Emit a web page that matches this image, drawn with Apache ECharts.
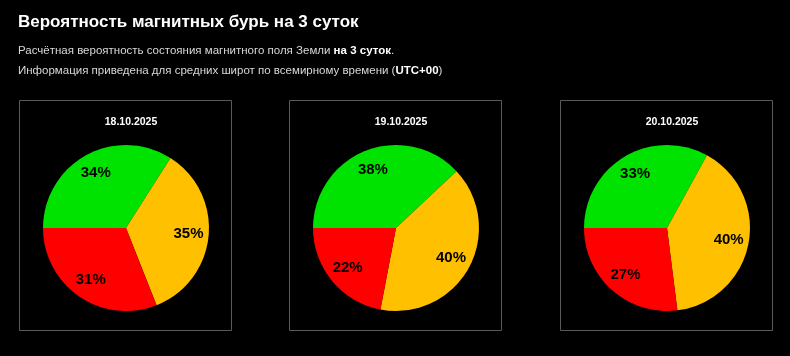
<!DOCTYPE html>
<html><head><meta charset="utf-8">
<script src="https://cdn.jsdelivr.net/npm/echarts@6/dist/echarts.min.js"></script>
<style>html,body{margin:0;padding:0;background:#000;}#c{width:790px;height:356px;}</style>
</head><body><div id="c"></div>
<script>
const dates = ['18.10.2025', '19.10.2025', '20.10.2025'];
const categories = ['Спокойно', 'Возмущения', 'Буря'];
const greenVals = [34, 38, 33];
const yellowVals = [35, 40, 40];
const redVals = [31, 22, 27];
const colors = ['#00e200', '#ffc000', '#ff0000'];

const centersX = [126, 396, 667];
const boxLeft = [19, 289, 560];
const R = 83;
const font = '"Liberation Sans", Arial, sans-serif';

const chart = echarts.init(document.getElementById('c'));
const series = [];
const titles = [{
  text: 'Вероятность магнитных бурь на 3 суток',
  left: 13, top: 9,
  textStyle: {color: '#fff', fontSize: 17, fontWeight: 'bold', fontFamily: font}
}, {
  text: '{n|Расчётная вероятность состояния магнитного поля Земли }{b|на 3 суток}{n|.}\n{n|Информация приведена для средних широт по всемирному времени (}{b|UTC+00}{n|)}',
  left: 13, top: 36,
  textStyle: {
    lineHeight: 20, fontWeight: 'normal',
    rich: {
      n: {color: '#d8d8d8', fontSize: 11.5, fontWeight: 'normal', fontFamily: font, lineHeight: 20},
      b: {color: '#fff', fontSize: 11.5, fontWeight: 'bold', fontFamily: font, lineHeight: 20}
    }
  }
}];
const graphics = [];
dates.forEach((d, i) => {
  const data = [
    {name: categories[0], value: greenVals[i]},
    {name: categories[1], value: yellowVals[i]},
    {name: categories[2], value: redVals[i]}
  ];
  series.push({
    type: 'pie', center: [centersX[i], 228], radius: [0, R],
    startAngle: 180, clockwise: true, silent: true,
    color: colors, label: {show: false}, labelLine: {show: false},
    itemStyle: {borderWidth: 0},
    emphasis: {disabled: true},
    data: data
  });
  series.push({
    type: 'pie', center: [centersX[i], 228], radius: [R * 0.44, R],
    startAngle: 180, clockwise: true, silent: true,
    itemStyle: {color: 'rgba(0,0,0,0)', borderWidth: 0},
    label: {show: true, position: 'inside', formatter: '{c}%', color: '#000',
      fontSize: 15, fontWeight: 'bold', fontFamily: font},
    labelLine: {show: false},
    emphasis: {disabled: true},
    data: data
  });
  titles.push({
    text: d, left: centersX[i], top: 112, textAlign: 'center',
    textStyle: {color: '#fff', fontSize: 10.5, fontWeight: 'bold', fontFamily: font}
  });
  graphics.push({
    type: 'rect', shape: {x: boxLeft[i] + 0.5, y: 100.5, width: 212, height: 230},
    style: {fill: 'none', stroke: '#5a5a5a', lineWidth: 1}, z: -1
  });
});

chart.setOption({
  backgroundColor: '#000',
  animation: false,
  title: titles,
  graphic: graphics,
  series: series
});
</script></body></html>
